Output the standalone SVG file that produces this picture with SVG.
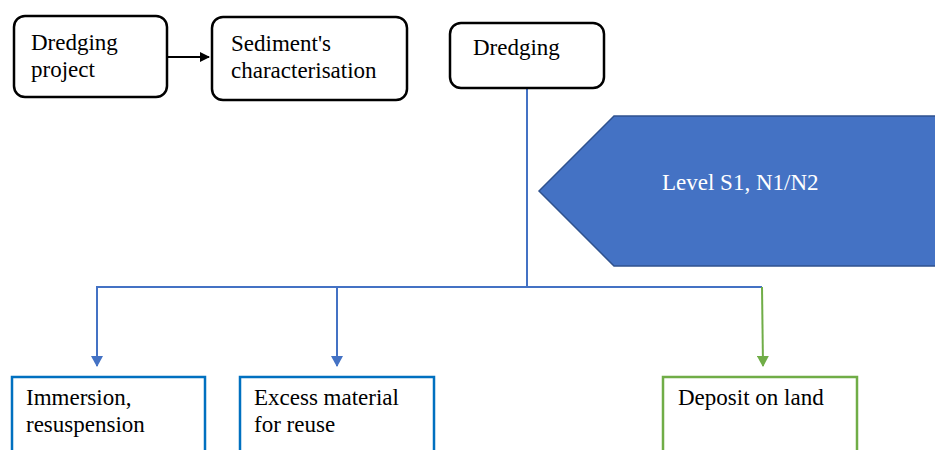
<svg xmlns="http://www.w3.org/2000/svg" width="935" height="450" viewBox="0 0 935 450">
<defs>
<style>
text{font-family:'Liberation Serif','DejaVu Serif',serif;font-size:23px;fill:#000}
.rb{fill:#fff;stroke:#000;stroke-width:2.5}
.bb{fill:#fff;stroke:#0070C0;stroke-width:2.5}
.gb{fill:#fff;stroke:#70AD47;stroke-width:2.5}
.cb{fill:none;stroke:#4472C4;stroke-width:2}
.cg{fill:none;stroke:#70AD47;stroke-width:2}
.ck{fill:none;stroke:#000;stroke-width:2}
</style>
<marker id="ak" markerWidth="10" markerHeight="10" refX="9" refY="5" orient="auto" markerUnits="userSpaceOnUse"><path d="M0,0 L10,5 L0,10 Z" fill="#000"/></marker>
<marker id="ab" markerWidth="12" markerHeight="12" refX="10" refY="6" orient="auto" markerUnits="userSpaceOnUse"><path d="M0,0 L11,6 L0,12 Z" fill="#4472C4"/></marker>
<marker id="ag" markerWidth="12" markerHeight="12" refX="10" refY="6" orient="auto" markerUnits="userSpaceOnUse"><path d="M0,0 L11,6 L0,12 Z" fill="#70AD47"/></marker>
</defs>
<g id="connectors">
<line class="ck" x1="167" y1="57" x2="209" y2="57" marker-end="url(#ak)"/>
<polyline class="cb" points="527,88 527,287"/>
<polyline class="cb" points="96,287 762,287"/>
<line class="cb" x1="97" y1="287" x2="97" y2="366" marker-end="url(#ab)"/>
<line class="cb" x1="337" y1="287" x2="337" y2="366" marker-end="url(#ab)"/>
<line class="cg" x1="762" y1="287" x2="763" y2="366" marker-end="url(#ag)"/>
</g>
<g font-family="Liberation Serif, serif" font-size="23">
<g id="dredging-project">
<rect class="rb" x="14" y="16" width="153" height="81" rx="11"/>
<text x="31" y="50">Dredging</text>
<text x="31" y="77">project</text>
</g>
<g id="sediment">
<rect class="rb" x="212" y="17" width="195" height="83" rx="11"/>
<text x="231" y="51">Sediment's</text>
<text x="231" y="78">characterisation</text>
</g>
<g id="dredging">
<rect class="rb" x="450" y="23" width="154" height="65" rx="11"/>
<text x="473" y="55">Dredging</text>
</g>
<g id="level">
<polygon points="539,191 614,116 936,116 936,266 614,266" fill="#4472C4" stroke="#2F528F" stroke-width="1.5"/>
<text x="662" y="190" style="fill:#fff">Level S1, N1/N2</text>
</g>
<g id="immersion">
<rect class="bb" x="12" y="377" width="193" height="90"/>
<text x="26" y="405">Immersion,</text>
<text x="26" y="432">resuspension</text>
</g>
<g id="excess">
<rect class="bb" x="240" y="377" width="194" height="90"/>
<text x="254" y="405">Excess material</text>
<text x="254" y="432">for reuse</text>
</g>
<g id="deposit">
<rect class="gb" x="663" y="377" width="194" height="90"/>
<text x="678" y="405">Deposit on land</text>
</g>
</g>
</svg>
